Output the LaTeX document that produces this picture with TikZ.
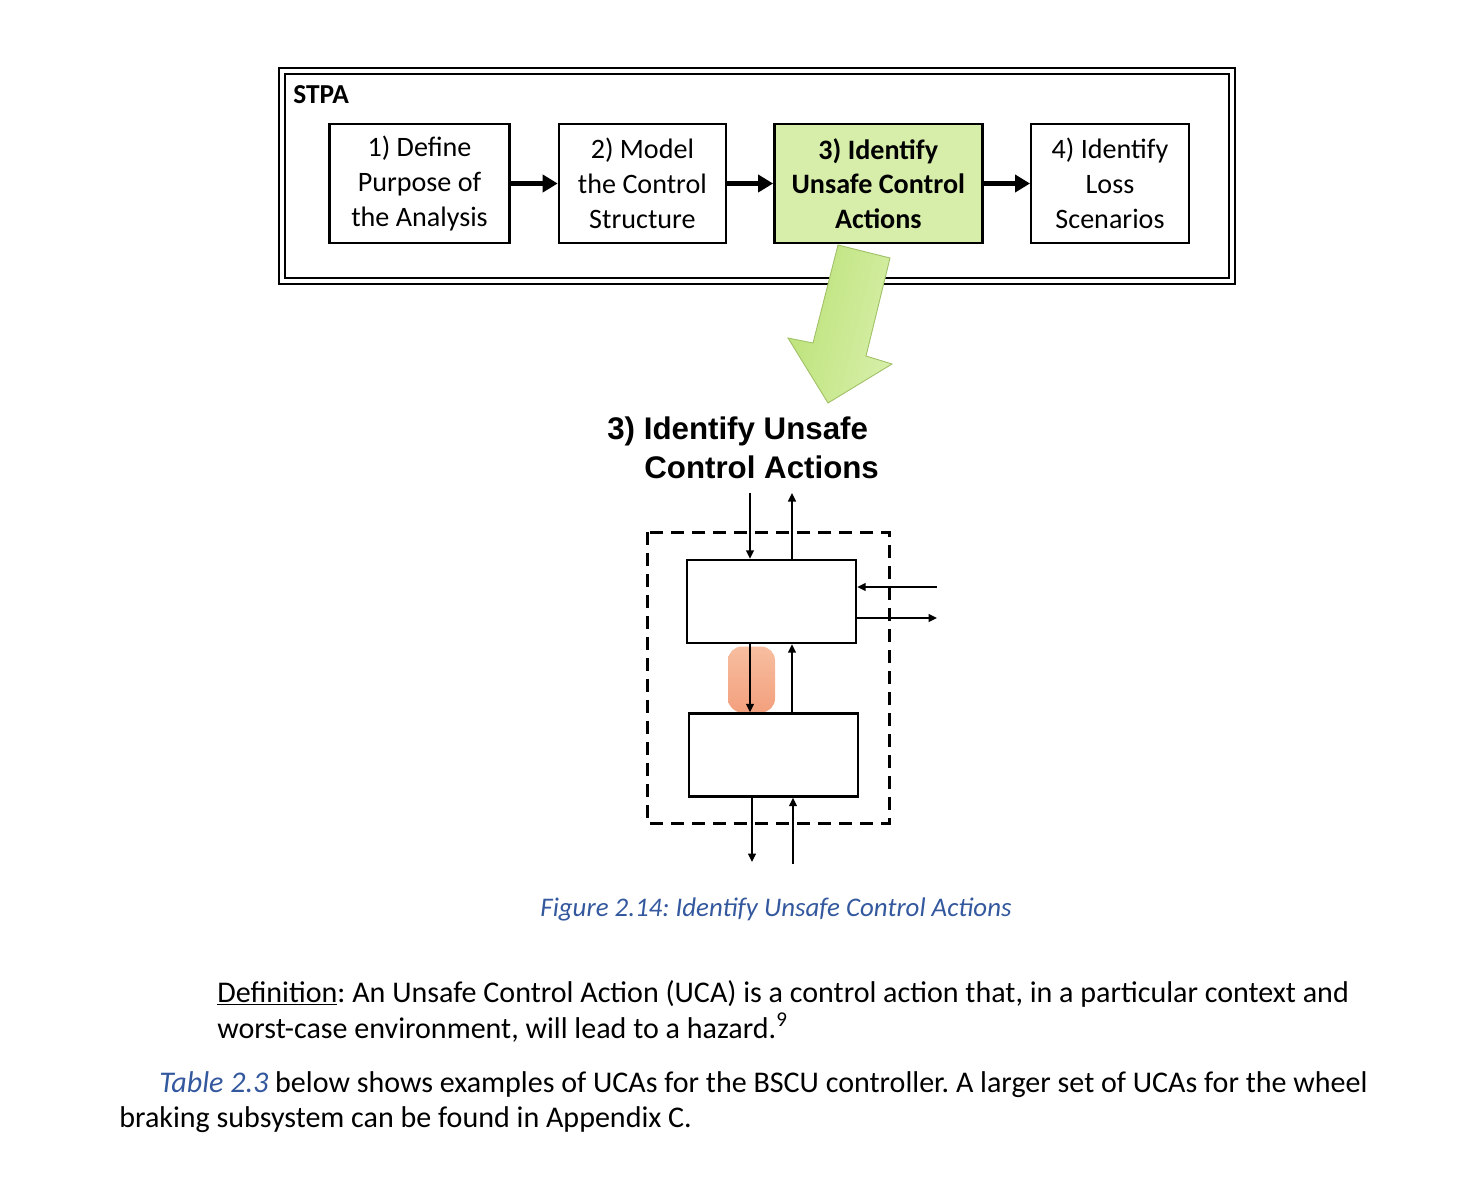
\documentclass[tikz,border=0pt]{standalone}
\usepackage{fontspec}
\setmainfont{Carlito}
\newfontfamily\arialfont{Liberation Sans}
\usetikzlibrary{positioning,arrows.meta,calc}
\pgfdeclarelayer{bg}
\pgfsetlayers{bg,main}
\definecolor{stepgreen}{RGB}{215,238,170}
\definecolor{arrowgreenl}{RGB}{188,226,120}
\definecolor{arrowgreenr}{RGB}{214,239,168}
\definecolor{capblue}{RGB}{52,88,158}
\definecolor{ucatop}{RGB}{247,190,160}
\definecolor{ucabot}{RGB}{243,160,125}
\tikzset{
  stepbox/.style={draw=black, line width=1.4pt, fill=white, align=center,
    minimum height=2.38cm, inner sep=0pt,
    font=\fontsize{16}{19.8}\selectfont},
  flow/.style={line width=0.11cm, -{Triangle[length=0.3cm,width=0.34cm]}},
  sig/.style={line width=0.03cm, -{Triangle[length=0.17cm,width=0.16cm]}},
  ctrlbox/.style={draw=black, line width=0.05cm, fill=white, inner sep=0pt,
    minimum width=3.38cm, minimum height=1.66cm},
  bodytext/.style={anchor=base west, inner sep=0pt,
    font=\fontsize{17.1}{20}\selectfont}
}
\frenchspacing

\begin{document}
\begin{tikzpicture}[x=0.02cm, y=-0.02cm]
      \useasboundingbox (0,0) rectangle (1471,1183);
      % STPA frame
      \draw [color = black, line width=0.05cm, double=white, double distance=0.07cm]
        (282,71) rectangle (1232,281);
      \node [anchor=west, inner sep=0pt, font=\fontsize{15.6}{18}\selectfont\bfseries] (stpa) at (293,95) {STPA};
      % the four steps
      \node [stepbox, minimum width=3.6cm] (b1) at (419.5,183.5) {1) Define\\Purpose of\\the Analysis};
      \node [stepbox, minimum width=3.34cm, right=0.94cm of b1] (b2) {2) Model\\the Control\\Structure};
      \node [stepbox, minimum width=4.16cm, right=0.92cm of b2, fill=stepgreen, font=\fontsize{16}{19.8}\selectfont\bfseries] (b3) {3) Identify\\Unsafe Control\\Actions};
      \node [stepbox, minimum width=3.15cm, right=0.93cm of b3] (b4) {4) Identify\\Loss\\Scenarios};
      \draw [flow] (b1) -- (b2);
      \draw [flow] (b2) -- (b3);
      \draw [flow] (b3) -- (b4);
      % big green arrow
      \draw [draw=arrowgreenl!85!black, line width=0.5pt, left color=arrowgreenl, right color=arrowgreenr, shading angle=76]
        (838,245) -- (890,258) -- (866,356) -- (892,364) -- (828,403) -- (788,338) -- (813,343) -- cycle;
      % zoomed step
      \node [bodytext, font=\fontsize{17.8}{20}\selectfont\arialfont\bfseries] (t1) at (607,439) {3) Identify Unsafe};
      \node [bodytext, font=\fontsize{17.8}{20}\selectfont\arialfont\bfseries] (t2) at (644,478) {Control Actions};
      \draw [line width=0.06cm, dash pattern=on 0.26cm off 0.16cm] (647,532) rectangle (889,823);
      \node [ctrlbox] (u1) at (771.5,601.5) {};
      \node [ctrlbox] (u2) at (773.5,755) {};
      \coordinate (tin) at (750,493);
      \coordinate (tout) at (792,493);
      \coordinate (rin) at (937,587);
      \coordinate (rout) at (937,618);
      \coordinate (bout) at (752,862);
      \coordinate (bin) at (793,864);
      \begin{pgfonlayer}{bg}
        \node [rounded corners=0.28cm, top color=ucatop, bottom color=ucabot, inner sep=0pt,
          minimum width=0.94cm, minimum height=1.32cm] (uca) at (751.5,679.5) {};
      \end{pgfonlayer}
      \draw [sig] (tin) -- (tin |- u1.north);
      \draw [sig] (tout |- u1.north) -- (tout);
      \draw [sig] (rin) -- (rin -| u1.east);
      \draw [sig] (rout -| u1.east) -- (rout);
      \draw [sig] (tin |- u1.south) -- (tin |- u2.north);
      \draw [sig] (tout |- u2.north) -- (tout |- u1.south);
      \draw [sig] (bout |- u2.south) -- (bout);
      \draw [sig] (bin) -- (bin |- u2.south);
      % caption and text
      \node [anchor=base, inner sep=0pt, text=capblue, font=\fontsize{15.3}{18}\selectfont\itshape] (cap) at (776,916) {Figure 2.14: Identify Unsafe Control Actions};
      \node [bodytext] (d1) at (217,1002) {\underline{Definition}: An Unsafe Control Action (UCA) is a control action that, in a particular context and};
      \node [bodytext] (d2) at (217,1038) {worst-case environment, will lead to a hazard.\textsuperscript{9}};
      \node [bodytext] (p1) at (159,1092) {{\color{capblue}\itshape Table 2.3} below shows examples of UCAs for the BSCU controller. A larger set of UCAs for the wheel};
      \node [bodytext] (p2) at (119,1127) {braking subsystem can be found in Appendix C.};
\end{tikzpicture}
\end{document}
